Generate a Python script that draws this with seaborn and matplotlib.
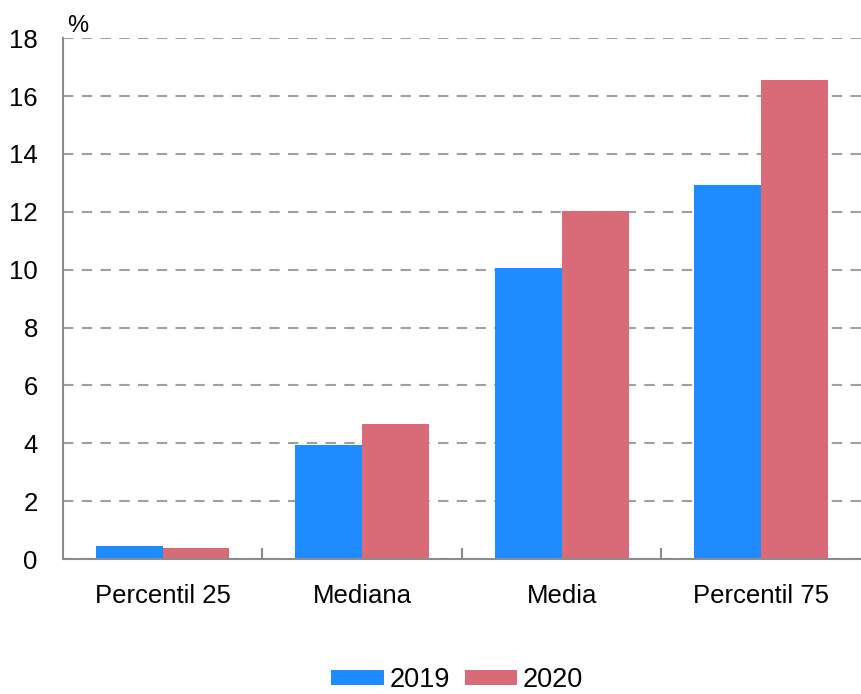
import pandas as pd
import seaborn as sns
import matplotlib.pyplot as plt
from matplotlib.ticker import FixedLocator

# data
categories = ["Percentil 25", "Mediana", "Media", "Percentil 75"]
years = ["2019", "2020"]
vals_2019 = [0.45, 3.94, 10.05, 12.92]
vals_2020 = [0.38, 4.66, 12.02, 16.55]

df = pd.DataFrame({
    "cat": categories * 2,
    "year": [years[0]] * 4 + [years[1]] * 4,
    "val": vals_2019 + vals_2020,
})

sns.set_style("white")
plt.rcParams["font.family"] = ["Liberation Sans", "DejaVu Sans"]
plt.rcParams["text.color"] = "black"
plt.rcParams["xtick.labelcolor"] = "black"
plt.rcParams["ytick.labelcolor"] = "black"

fig = plt.figure(figsize=(8.61, 6.94), dpi=100)
ax = fig.add_axes([0.073, 0.1945, 0.927, 0.7505])

sns.barplot(data=df, x="cat", y="val", hue="year",
            palette=["#1E8CFF", "#D96B78"], width=0.67,
            saturation=1, linewidth=0, ax=ax)

ax.set_xlim(-0.5, 3.5)
ax.set_ylim(0, 18)
ax.set_yticks(range(0, 19, 2))
ax.yaxis.grid(True, linestyle=(0, (5, 4)), color="#A0A0A0", linewidth=1.5)
ax.set_axisbelow(True)
ax.set_xlabel("")
ax.set_ylabel("")

for s in ["top", "right"]:
    ax.spines[s].set_visible(False)
for s in ["left", "bottom"]:
    ax.spines[s].set_color("#8C8C8C")
    ax.spines[s].set_linewidth(1.5)

ax.tick_params(axis="x", which="major", length=0, labelsize=18.5, pad=18,
               labelcolor="black")
ax.tick_params(axis="y", which="major", length=0, labelsize=18.5, pad=18,
               labelcolor="black")
ax.xaxis.set_minor_locator(FixedLocator([0.5, 1.5, 2.5]))
ax.tick_params(axis="x", which="minor", bottom=True, direction="in",
               length=8, width=1.5, color="#8C8C8C")

ax.text(0.005, 1.012, "%", transform=ax.transAxes, fontsize=17, color="black")

leg = ax.legend(loc="lower center", bbox_to_anchor=(0.494, -0.258), ncol=2,
                frameon=False, fontsize=19.5, handlelength=1.95,
                handleheight=0.5, handletextpad=0.2, columnspacing=0.55,
                borderpad=0.0, borderaxespad=0.0)
for t in leg.get_texts():
    t.set_color("black")

fig.savefig("out.png", dpi=100)
